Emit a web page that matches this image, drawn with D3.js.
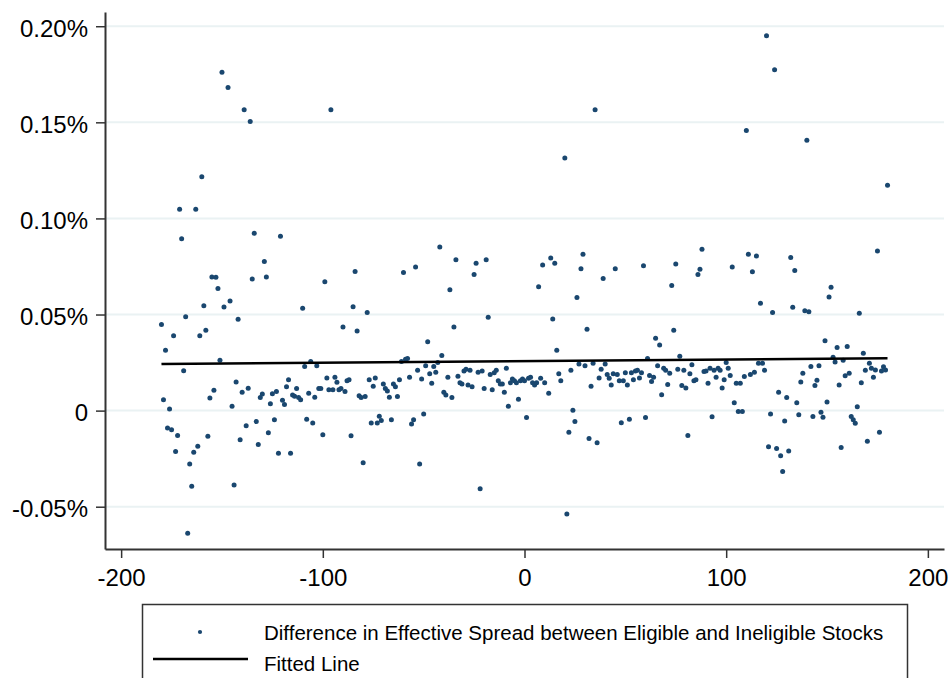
<!DOCTYPE html>
<html>
<head>
<meta charset="utf-8">
<script src="https://cdn.jsdelivr.net/npm/d3@7"></script>
<style>
  body { margin: 0; background: #fff; }
  svg { display: block; font-family: "Liberation Sans", Arial, sans-serif; }
</style>
</head>
<body>
<div id="chart"></div>
<script>
// event day relative to the eligibility date
const days = [
  -180,-179,-178,-177,-176,-175,-174,-173,-172,-171,
  -170,-169,-168,-167,-166,-165,-164,-163,-162,-161,
  -160,-159,-158,-157,-156,-155,-154,-153,-152,-151,
  -150,-149,-147,-146,-145,-144,-143,-142,-141,-140,
  -139,-138,-137,-136,-135,-134,-133,-132,-131,-130,
  -129,-128,-127,-126,-125,-124,-123,-122,-121,-120,
  -119,-118,-117,-116,-115,-114,-113,-112,-111,-110,
  -109,-108,-107,-106,-105,-104,-103,-102,-101,-100,
  -99,-98,-97,-96,-95,-94,-93,-92,-91,-90,
  -89,-88,-87,-86,-85,-84,-83,-82,-81,-80,
  -79,-78,-77,-76,-75,-74,-73,-72,-71,-70,
  -69,-68,-67,-66,-65,-64,-63,-62,-61,-60,
  -59,-58,-57,-56,
  -55,-54,-53,-52,-51,-50,-49,-48,-47,-46,
  -45,-44,-43,-42,-41,-40,-39,-38,-37,-36,
  -35,-34,-33,-32,-31,-30,-29,-28,-27,-26,
  -25,-24,-23,-22,-21,-20,-19,-18,-17,-16,
  -15,-14,-13,-12,-11,-10,-9,-8,-7,-6,
  -5,-4,-3,-2,-1,0,1,2,3,4,
  5,6,7,8,
  9,10,12,13,14,15,16,17,18,20,
  21,22,23,24,25,26,27,28,29,30,
  31,32,33,34,35,36,37,38,39,40,
  41,42,43,44,45,46,47,48,49,50,
  51,52,53,54,55,56,57,58,59,60,
  61,62,63,64,65,66,67,68,69,70,
  71,
  72,73,74,75,76,77,78,79,80,81,
  82,83,84,85,86,87,88,89,90,91,
  92,93,94,95,96,97,98,99,100,101,
  102,103,104,105,106,107,108,109,110,111,
  112,113,114,115,116,117,118,119,120,121,
  122,123,124,125,126,127,128,129,130,131,
  132,133,134,135,136,137,
  138,139,140,141,142,143,144,145,146,147,
  148,149,150,151,152,153,154,155,156,157,
  158,159,160,161,162,163,164,165,166,167,
  168,169,170,171,172,173,174,175,176,177,
  178,179,180
];

// difference in effective spread, in percent
const spread = [
  0.0448,0.0056,0.0314,-0.0090,0.0009,-0.0099,0.0389,-0.0213,-0.0129,0.1048,
  0.0894,0.0208,0.0489,-0.0638,-0.0278,-0.0394,-0.0217,0.1048,-0.0185,0.0389,
  0.1217,0.0545,0.0418,-0.0134,0.0065,0.0695,0.0106,0.0694,0.0636,0.0262,
  0.1760,0.0539,0.1681,0.0570,0.0023,-0.0387,0.0149,0.0475,-0.0151,0.0095,
  0.1566,-0.0079,0.0116,0.1504,0.0685,0.0923,-0.0057,-0.0176,0.0068,0.0086,
  0.0776,0.0695,-0.0115,0.0036,0.0088,-0.0048,0.0100,-0.0222,0.0907,0.0054,
  0.0032,0.0124,0.0161,-0.0222,0.0081,0.0075,0.0115,0.0068,0.0057,0.0532,
  0.0229,-0.0045,0.0091,0.0256,-0.0065,0.0070,0.0233,0.0115,0.0115,-0.0125,
  0.0670,0.0170,0.0108,0.1566,0.0108,0.0174,0.0147,0.0108,0.0115,0.0435,
  0.0100,0.0156,0.0161,-0.0131,0.0541,0.0724,0.0414,0.0077,0.0068,-0.0271,
  0.0073,0.0511,0.0161,-0.0065,0.0127,0.0170,-0.0065,-0.0029,-0.0052,0.0138,
  0.0115,0.0102,0.0070,-0.0048,0.0138,0.0124,0.0073,0.0161,0.0256,0.0719,
  0.0267,0.0271,0.0174,-0.0070,
  -0.0048,0.0747,0.0210,-0.0278,0.0165,-0.0018,0.0233,0.0358,0.0192,0.0142,
  0.0229,0.0200,0.0251,0.0851,0.0287,0.0095,0.0081,0.0174,0.0629,0.0068,
  0.0435,0.0785,0.0179,0.0145,0.0138,0.0206,0.0215,0.0133,0.0210,0.0124,
  0.0708,0.0767,0.0200,-0.0407,0.0206,0.0115,0.0785,0.0486,0.0188,0.0109,
  0.0197,0.0210,0.0156,0.0138,0.0138,0.0095,0.0220,0.0023,0.0145,0.0165,
  0.0156,0.0145,0.0059,0.0156,0.0165,0.0156,-0.0036,0.0168,0.0174,0.0145,
  0.0133,0.0145,0.0645,0.0168,
  0.0758,0.0145,0.0091,0.0794,0.0477,0.0767,0.0314,0.0192,0.0156,0.1314,
  -0.0538,-0.0113,0.0210,0.0002,-0.0057,0.0588,0.0242,0.0738,0.0814,0.0233,
  0.0423,-0.0145,0.0127,0.0247,0.1566,-0.0167,0.0170,0.0215,0.0688,0.0242,
  0.0188,0.0168,0.0133,0.0192,0.0738,0.0188,0.0156,-0.0063,0.0156,0.0197,
  0.0133,-0.0045,0.0197,0.0161,0.0206,0.0210,0.0170,0.0197,0.0754,-0.0036,
  0.0271,0.0183,0.0151,0.0174,0.0376,0.0233,0.0342,0.0082,0.0220,0.0210,
  0.0136,
  0.0194,0.0651,0.0418,0.0763,0.0215,0.0283,0.0131,0.0210,0.0118,-0.0129,
  0.0192,0.0238,0.0156,0.0161,0.0708,0.0735,0.0839,0.0203,0.0206,0.0142,
  0.0220,-0.0032,0.0210,0.0174,0.0220,0.0210,0.0118,0.0161,0.0251,0.0220,
  0.0183,0.0747,0.0041,0.0142,-0.0004,0.0142,-0.0004,0.0177,0.1457,0.0814,
  0.0188,0.0722,0.0200,0.0805,0.0247,0.0559,0.0247,0.0210,0.1950,-0.0188,
  -0.0018,0.0511,0.1774,-0.0197,0.0095,-0.0235,-0.0317,-0.0054,0.0068,-0.0210,
  0.0797,0.0538,0.0729,0.0041,-0.0022,0.0149,
  0.0194,0.0520,0.1407,0.0514,0.0229,-0.0030,0.0131,0.0158,0.0233,-0.0009,
  -0.0034,0.0364,0.0045,0.0591,0.0642,0.0278,0.0253,0.0328,0.0133,-0.0192,
  0.0262,0.0181,0.0333,0.0194,-0.0030,-0.0048,-0.0066,0.0020,0.0507,0.0145,
  0.0299,0.0210,-0.0159,0.0247,0.0220,0.0174,0.0211,0.0830,-0.0113,0.0206,
  0.0228,0.0211,0.1172
];

// fitted line end points
const fitDays = [-180, 180];
const fitValues = [0.0242, 0.0272];

const xTicks = [-200, -100, 0, 100, 200];
const yTicks = [-0.05, 0, 0.05, 0.10, 0.15, 0.20];
const legendLabels = [
  "Difference in Effective Spread between Eligible and Ineligible Stocks",
  "Fitted Line"
];

if (days.length !== spread.length) console.error("length mismatch", days.length, spread.length);

const width = 951, height = 678;
const margin = { top: 12, right: 7, bottom: 129, left: 105 };
const navy = "#1a476f";

const svg = d3.select("#chart")
    .append("svg")
    .attr("width", width)
    .attr("height", height);

const xScale = d3.scaleLinear()
    .domain([-208, 208])
    .range([margin.left, width - margin.right]);

const yScale = d3.scaleLinear()
    .domain([-0.072, 0.2074])
    .range([height - margin.bottom, margin.top]);

// gridlines
svg.append("g")
    .selectAll("line")
    .data(yTicks)
    .enter()
    .append("line")
    .attr("x1", margin.left)
    .attr("x2", width - margin.right)
    .attr("y1", d => yScale(d))
    .attr("y2", d => yScale(d))
    .attr("stroke", "#eaf2f3")
    .attr("stroke-width", 2);

// points
const points = days.map((d, i) => ({ day: d, value: spread[i] }));
svg.append("g")
    .selectAll("circle")
    .data(points)
    .enter()
    .append("circle")
    .attr("cx", d => xScale(d.day))
    .attr("cy", d => yScale(d.value))
    .attr("r", 2.5)
    .attr("fill", navy);

// fitted line
const fit = fitDays.map((d, i) => [d, fitValues[i]]);
svg.append("path")
    .datum(fit)
    .attr("fill", "none")
    .attr("stroke", "#000")
    .attr("stroke-width", 2.5)
    .attr("d", d3.line().x(d => xScale(d[0])).y(d => yScale(d[1])));

// Y axis
const yAxis = svg.append("g")
    .attr("transform", `translate(${margin.left},0)`)
    .call(d3.axisLeft(yScale)
        .tickValues(yTicks)
        .tickFormat(d => d === 0 ? "0" : d.toFixed(2) + "%")
        .tickSize(9)
        .tickSizeOuter(0)
        .tickPadding(8));

// X axis
const xAxis = svg.append("g")
    .attr("transform", `translate(0,${height - margin.bottom})`)
    .call(d3.axisBottom(xScale)
        .tickValues(xTicks)
        .tickFormat(d => String(d))
        .tickSize(9)
        .tickSizeOuter(0)
        .tickPadding(11));

[yAxis, xAxis].forEach(ax => {
    ax.select(".domain").attr("stroke", "#333").attr("stroke-width", 2);
    ax.selectAll(".tick line").attr("stroke", "#333").attr("stroke-width", 1.5);
    ax.selectAll(".tick text")
        .attr("fill", "#000")
        .style("font-size", "24px")
        .style("font-family", "'Liberation Sans', Arial, sans-serif");
});
yAxis.selectAll(".tick text").attr("dy", "0.42em");

// legend
const legend = svg.append("g");
legend.append("rect")
    .attr("x", 142.5)
    .attr("y", 604.5)
    .attr("width", 765)
    .attr("height", 100)
    .attr("fill", "#fff")
    .attr("stroke", "#333")
    .attr("stroke-width", 1.5);

legend.append("circle")
    .attr("cx", 200)
    .attr("cy", 632)
    .attr("r", 2.1)
    .attr("fill", navy);

legend.append("line")
    .attr("x1", 153)
    .attr("x2", 248)
    .attr("y1", 659)
    .attr("y2", 659)
    .attr("stroke", "#000")
    .attr("stroke-width", 2.5);

legend.selectAll("text")
    .data(legendLabels)
    .enter()
    .append("text")
    .attr("x", 264)
    .attr("y", (d, i) => i === 0 ? 640 : 671)
    .style("font-size", "20.5px")
    .attr("fill", "#000")
    .text(d => d);
</script>
</body>
</html>
